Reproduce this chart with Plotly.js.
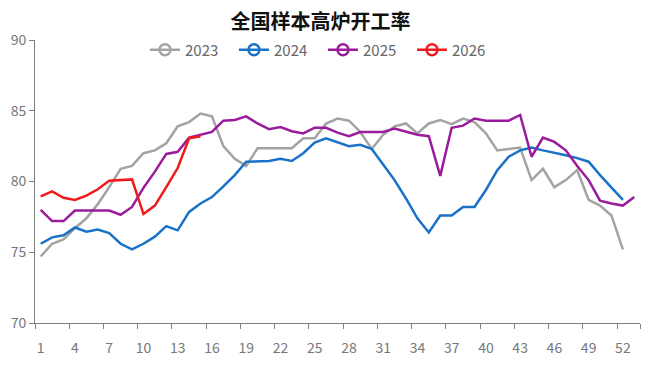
<!DOCTYPE html>
<html>
<head>
<meta charset="utf-8">
<script src="https://cdn.plot.ly/plotly-3.0.1.min.js"></script>
<style>html,body{margin:0;padding:0;background:#fff;}#chart{width:650px;height:369px;}</style>
</head>
<body>
<div id="chart"></div>
<script>
const weeks = [1,2,3,4,5,6,7,8,9,10,11,12,13,14,15,16,17,18,19,20,21,22,23,24,25,26,27,28,29,30,31,32,33,34,35,36,37,38,39,40,41,42,43,44,45,46,47,48,49,50,51,52,53];
const tickWeeks = [1,4,7,10,13,16,19,22,25,28,31,34,37,40,43,46,49,52];
const seriesNames = ['2023','2024','2025','2026'];
const y2023 = [74.7,75.6,75.9,76.7,77.4,78.4,79.6,80.9,81.1,82.0,82.2,82.7,83.9,84.2,84.8,84.6,82.5,81.6,81.1,82.35,82.35,82.35,82.35,83.05,83.05,84.1,84.45,84.3,83.5,82.3,83.3,83.9,84.1,83.4,84.1,84.35,84.05,84.45,84.2,83.4,82.2,82.3,82.4,80.1,80.9,79.6,80.1,80.8,78.7,78.3,77.6,75.2];
const y2024 = [75.6,76.05,76.2,76.75,76.45,76.6,76.35,75.6,75.2,75.6,76.1,76.85,76.55,77.85,78.45,78.9,79.65,80.45,81.4,81.45,81.45,81.6,81.45,82.0,82.75,83.05,82.8,82.5,82.6,82.3,81.2,80.1,78.8,77.4,76.4,77.6,77.6,78.2,78.2,79.4,80.8,81.75,82.2,82.4,82.2,82.05,81.85,81.65,81.4,80.45,79.6,78.7];
const y2025 = [78.0,77.2,77.2,77.95,77.95,77.95,77.95,77.65,78.2,79.55,80.7,81.95,82.1,83.1,83.3,83.5,84.3,84.35,84.6,84.1,83.7,83.85,83.55,83.4,83.8,83.8,83.45,83.2,83.5,83.5,83.5,83.75,83.5,83.3,83.2,80.4,83.8,83.95,84.45,84.3,84.3,84.3,84.7,81.75,83.1,82.8,82.2,81.1,80.1,78.65,78.45,78.3,78.9];
const y2026 = [78.95,79.3,78.85,78.7,79.0,79.45,80.05,80.1,80.15,77.7,78.3,79.6,80.95,83.05,83.2];

const values = [y2023, y2024, y2025, y2026];
const colors = ['#a3a3a3', '#1a72c8', '#9a1b9c', '#f01a1a'];

const traces = [];
values.forEach((v, i) => {
  traces.push({
    x: weeks.slice(0, v.length), y: v, type: 'scatter', mode: 'lines',
    name: seriesNames[i], legendgroup: seriesNames[i], showlegend: false,
    line: {color: colors[i], width: 2.5}, hoverinfo: 'skip'
  });
});
values.forEach((v, i) => {
  traces.push({
    x: [null], y: [null], type: 'scatter', mode: 'lines+markers',
    name: seriesNames[i], legendgroup: seriesNames[i], showlegend: true,
    line: {color: colors[i], width: 2.5},
    marker: {symbol: 'circle-open', size: 11, color: colors[i], line: {width: 2.5, color: colors[i]}}
  });
});

const minorTicks = [0.5,3.5,6.5,9.5,12.5,15.5,18.5,21.5,24.5,27.5,30.5,33.5,36.5,39.5,42.5,45.5,48.5,51.5,53.5];

const layout = {
  width: 650, height: 369,
  margin: {l: 35, r: 10, t: 40, b: 46},
  paper_bgcolor: '#fff', plot_bgcolor: '#fff',
  font: {family: 'Noto Sans CJK SC, Noto Sans, sans-serif', color: '#777', size: 13},
  title: {text: '<b>全国样本高炉开工率</b>', x: 0.493, xref: 'container', xanchor: 'center', y: 0.94, yref: 'container', yanchor: 'middle',
          font: {size: 20, color: '#111', family: 'Noto Sans CJK SC, sans-serif'}},
  showlegend: true,
  legend: {orientation: 'h', x: 0.476, xref: 'paper', xanchor: 'center', y: 0.965, yref: 'paper', yanchor: 'middle',
           font: {size: 15, color: '#666'}, bgcolor: 'rgba(0,0,0,0)', entrywidth: 44, entrywidthmode: 'pixels', itemclick: false},
  xaxis: {
    range: [0.5, 53.5], tickmode: 'array', tickvals: tickWeeks, ticktext: tickWeeks.map(String),
    ticks: '', showgrid: false, zeroline: false, showline: true, linecolor: '#7f7f7f', linewidth: 1,
    tickfont: {size: 14, color: '#777'}, ticklabelstandoff: 12,
    minor: {tickmode: 'array', tickvals: minorTicks, ticks: 'outside', ticklen: 5, tickcolor: '#7f7f7f', tickwidth: 1, showgrid: false}
  },
  yaxis: {
    range: [70, 90], tickmode: 'array', tickvals: [70,75,80,85,90],
    ticks: 'outside', ticklen: 5, tickcolor: '#7f7f7f', showgrid: false, zeroline: false,
    showline: true, linecolor: '#7f7f7f', linewidth: 1, tickfont: {size: 14, color: '#777'}
  }
};

Plotly.newPlot('chart', traces, layout, {displayModeBar: false, staticPlot: true});
</script>
</body>
</html>
